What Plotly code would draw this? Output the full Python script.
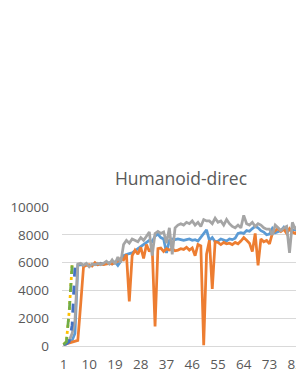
import plotly.graph_objects as go

categories = list(range(1, 90))
tick_labels = [1, 10, 19, 28, 37, 46, 55, 64, 73, 82]
y_ticks = [0, 2000, 4000, 6000, 8000, 10000]

series_blue = [100, 150, 250, 400, 900, 5800, 5850, 5800, 5900, 5750,
               5850, 5900, 5850, 5950, 5900, 5950, 6000, 5900, 6050, 5800,
               6100, 6500, 6600, 6650, 6700, 6850, 7000, 7200, 7300, 7500,
               7600, 7500, 7900, 8050, 7800, 7700, 6700, 7600, 7700, 7650,
               7700, 7650, 7600, 7650, 7700, 7600, 7650, 7550, 7800, 8100,
               8350, 7600, 7800, 7500, 7550, 7700, 7600, 7550, 7700, 7650,
               7750, 8100, 8150, 8100, 8300, 8250, 8450, 8600, 8500, 8300,
               8200, 8000, 8050, 8450, 8150, 8200, 8300, 8550, 8250, 8350,
               8300, 8400, 8300, 8350, 8400, 8300, 8450, 8350, 8400]

series_orange = [100, 150, 200, 250, 300, 400, 3000, 5700, 5800, 5850,
                 5750, 6000, 5850, 5900, 5850, 5900, 5950, 5900, 6000, 6100,
                 6300, 6200, 6600, 3200, 6500, 6900, 6600, 7100, 6300, 7300,
                 6800, 7100, 1400, 7000, 7050, 6800, 7000, 6900, 7000, 6850,
                 6900, 7000, 6950, 7100, 6900, 7050, 6500, 7300, 7200, 50,
                 6600, 7600, 4100, 7500, 7450, 7300, 7450, 7350, 7400, 7300,
                 7450, 7350, 7550, 7800, 7600, 7400, 6800, 8100, 5800, 7700,
                 7500, 7600, 7350, 8100, 8300, 8450, 8250, 8400, 8100, 8450,
                 8200, 8100, 8300, 8200, 8300, 8250, 8350, 8300, 8250]

series_gray = [100, 200, 400, 900, 1800, 5900, 5950, 5800, 5950, 5700,
               5900, 5850, 5950, 5850, 5950, 6100, 5900, 6200, 5900, 6400,
               6000, 7300, 7600, 7400, 7700, 7600, 7500, 7800, 7600, 7900,
               8200, 6500, 8100, 8250, 8100, 8200, 7400, 8500, 6600, 8500,
               8700, 8800, 8700, 8900, 8800, 9000, 8700, 8900, 8600, 9100,
               9000, 9000, 8800, 9200, 8900, 9000, 8700, 9100, 8800, 8600,
               8500, 8700, 8500, 9400, 8800, 8700, 8900, 8600, 8800, 8700,
               8500, 8400, 8400, 8000, 8700, 8500, 8300, 8500, 8600, 6700,
               8900, 8400, 8700, 8600, 8500, 8700, 8600, 8500, 8600]

series_yellow = [100, 300, 2500, 5800]
series_darkblue = [100, 150, 300, 1500, 5800]
series_green = [100, 300, 2500, 5800]

fig = go.Figure()
fig.add_trace(go.Scatter(x=categories, y=series_blue, mode="lines",
                         line=dict(color="#5B9BD5", width=2.75)))
fig.add_trace(go.Scatter(x=categories, y=series_orange, mode="lines",
                         line=dict(color="#ED7D31", width=2.75)))
fig.add_trace(go.Scatter(x=categories, y=series_gray, mode="lines",
                         line=dict(color="#A5A5A5", width=2.75)))
fig.add_trace(go.Scatter(x=categories[:len(series_yellow)], y=series_yellow, mode="lines",
                         line=dict(color="#FFC000", width=2.75, dash="dot")))
fig.add_trace(go.Scatter(x=categories[:len(series_darkblue)], y=series_darkblue, mode="lines",
                         line=dict(color="#4472C4", width=2.75, dash="dash")))
fig.add_trace(go.Scatter(x=categories[:len(series_green)], y=series_green, mode="lines",
                         line=dict(color="#70AD47", width=2.75, dash="dash")))

# The reference chart is cropped on its right side: draw a wider figure and let
# the 296 px window cut it.
fig_width = 320
plot_left = 62
px_per_cat = 2.861
x_start = 1 - 1.5 / px_per_cat
x_end = x_start + (fig_width - plot_left) / px_per_cat

font = "Open Sans, Liberation Sans, sans-serif"
fig.update_layout(
    width=fig_width, height=383,
    margin=dict(l=plot_left, r=0, t=207, b=37),
    paper_bgcolor="white", plot_bgcolor="white",
    showlegend=False,
    title=dict(text="Humanoid-direc", x=181/fig_width, xref="container", xanchor="center",
               y=1 - 179/383, yref="container", yanchor="middle",
               font=dict(family=font, size=17.5, color="#595959")),
    xaxis=dict(range=[x_start, x_end], tickvals=tick_labels, ticktext=[str(t) for t in tick_labels],
               showgrid=False, zeroline=False, showline=False, ticks="",
               ticklabelstandoff=8, ticklabeloverflow="allow",
               tickfont=dict(family=font, size=13.5, color="#595959")),
    yaxis=dict(range=[0, 10000], tickvals=y_ticks, ticktext=[str(t) for t in y_ticks],
               showgrid=True, gridcolor="#D9D9D9", gridwidth=1,
               zeroline=True, zerolinecolor="#D9D9D9", zerolinewidth=1,
               showline=False, ticks="", ticklabelstandoff=12,
               tickfont=dict(family=font, size=13.5, color="#595959")),
)

fig.write_html("out.html", config={"displayModeBar": False},
               post_script="document.body.style.margin='0px';document.body.style.overflow='hidden';")
